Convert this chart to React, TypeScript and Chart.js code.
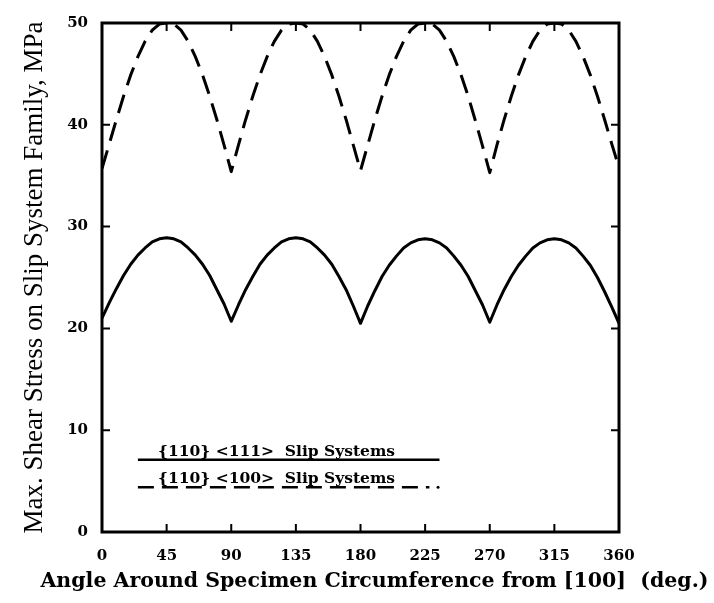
import React, { useEffect, useRef } from "react";
import { Chart, registerables } from "chart.js";

Chart.register(...registerables);

// Angle around specimen circumference, degrees
const angles: number[] = [
  0, 5, 10, 15, 20, 25, 30, 35, 40, 45, 50, 55, 60, 65, 70, 75, 80, 85, 90,
  95, 100, 105, 110, 115, 120, 125, 130, 135, 140, 145, 150, 155, 160, 165, 170, 175, 180,
  185, 190, 195, 200, 205, 210, 215, 220, 225, 230, 235, 240, 245, 250, 255, 260, 265, 270,
  275, 280, 285, 290, 295, 300, 305, 310, 315, 320, 325, 330, 335, 340, 345, 350, 355, 360,
];

// {110}<111> slip systems (solid), MPa
const slip111: number[] = [
  21.0, 22.5, 23.9, 25.2, 26.3, 27.2, 27.9, 28.5, 28.8, 28.9, 28.8, 28.5, 27.9, 27.2, 26.3, 25.2, 23.8, 22.4, 20.7,
  22.3, 23.8, 25.1, 26.3, 27.2, 27.9, 28.5, 28.8, 28.9, 28.8, 28.5, 27.9, 27.2, 26.3, 25.1, 23.8, 22.2, 20.5,
  22.2, 23.7, 25.1, 26.2, 27.1, 27.9, 28.4, 28.7, 28.8, 28.7, 28.4, 27.9, 27.1, 26.2, 25.1, 23.7, 22.3, 20.6,
  22.3, 23.8, 25.1, 26.2, 27.1, 27.9, 28.4, 28.7, 28.8, 28.7, 28.4, 27.9, 27.1, 26.2, 25.0, 23.6, 22.1, 20.5,
];

// {110}<100> slip systems (dashed), MPa
const slip100: number[] = [
  35.7, 38.1, 40.5, 42.8, 44.9, 46.7, 48.2, 49.3, 49.9, 50.0, 49.9, 49.3, 48.2, 46.7, 44.9, 42.8, 40.5, 38.0, 35.4,
  38.0, 40.5, 42.8, 44.9, 46.7, 48.2, 49.3, 49.9, 50.0, 49.9, 49.3, 48.2, 46.7, 44.9, 42.8, 40.5, 38.0, 35.5,
  38.0, 40.5, 42.8, 44.9, 46.7, 48.2, 49.3, 49.9, 50.0, 49.9, 49.3, 48.2, 46.7, 44.9, 42.8, 40.4, 37.9, 35.3,
  38.0, 40.5, 42.8, 44.9, 46.7, 48.2, 49.3, 49.9, 50.0, 49.9, 49.3, 48.2, 46.7, 44.9, 42.8, 40.5, 38.1, 35.8,
];

const seriesLabels: string[] = ["{110} <111>  Slip Systems", "{110} <100>  Slip Systems"];
const xTitle = "Angle Around Specimen Circumference from [100]  (deg.)";
const yTitle = "Max. Shear Stress on Slip System Family, MPa";

const W = 714;
const H = 603;
const DASH = [19, 10];

const framePlugin = {
  id: "frameTicks",
  afterDatasetsDraw(chart: any) {
    const { ctx, chartArea, scales } = chart;
    const { left, right, top, bottom } = chartArea;
    const xs = scales.x;
    const ys = scales.y;
    ctx.save();
    ctx.strokeStyle = "#000";
    ctx.lineWidth = 3;
    ctx.strokeRect(left, top, right - left, bottom - top);
    ctx.lineWidth = 2;
    ctx.beginPath();
    xs.ticks.forEach((t: any) => {
      if (t.value > xs.min && t.value < xs.max) {
        const px = xs.getPixelForValue(t.value);
        ctx.moveTo(px, bottom);
        ctx.lineTo(px, bottom - 8);
        ctx.moveTo(px, top);
        ctx.lineTo(px, top + 8);
      }
    });
    ys.ticks.forEach((t: any) => {
      if (t.value > ys.min && t.value < ys.max) {
        const py = ys.getPixelForValue(t.value);
        ctx.moveTo(left, py);
        ctx.lineTo(left + 8, py);
        ctx.moveTo(right, py);
        ctx.lineTo(right - 8, py);
      }
    });
    ctx.stroke();

    // x-axis title (wider than the plot, so drawn here rather than squeezed by the axis)
    ctx.fillStyle = "#000";
    ctx.font = "bold 20.5px 'DejaVu Serif'";
    ctx.textAlign = "center";
    ctx.textBaseline = "middle";
    ctx.fillText(xTitle, (left + right) / 2 + 14, 582);
    ctx.restore();
  },
};

// legend placement in data units
const legendLineX = [25, 235];
const legendTextX = 39;
const legendRows = [
  { lineY: 7.1, textY: 7.5 },
  { lineY: 4.4, textY: 4.8 },
];

const legendPlugin = {
  id: "inlineLegend",
  afterDatasetsDraw(chart: any) {
    const { ctx, scales } = chart;
    const xs = scales.x;
    const ys = scales.y;
    ctx.save();
    ctx.fillStyle = "#000";
    ctx.strokeStyle = "#000";
    ctx.font = "bold 15.5px 'DejaVu Serif'";
    ctx.textBaseline = "alphabetic";
    ctx.textAlign = "left";
    legendRows.forEach((row, i) => {
      ctx.fillText(seriesLabels[i], xs.getPixelForValue(legendTextX), ys.getPixelForValue(row.textY));
      const y = ys.getPixelForValue(row.lineY);
      ctx.lineWidth = 2.5;
      ctx.setLineDash(i === 0 ? [] : [16, 8]);
      ctx.beginPath();
      ctx.moveTo(xs.getPixelForValue(legendLineX[0]), y);
      ctx.lineTo(xs.getPixelForValue(i === 0 ? legendLineX[1] : legendLineX[1] - 7), y);
      ctx.stroke();
      if (i === 1) {
        ctx.setLineDash([]);
        ctx.beginPath();
        ctx.arc(xs.getPixelForValue(legendLineX[1] - 1), y, 1.5, 0, Math.PI * 2);
        ctx.fill();
      }
    });
    ctx.restore();
  },
};

export default function App() {
  const ref = useRef<HTMLCanvasElement | null>(null);

  useEffect(() => {
    if (!ref.current) return;
    const tickFont = { family: "'DejaVu Serif'", size: 15, weight: "bold" as const };
    const chart = new Chart(ref.current, {
      type: "line",
      data: {
        datasets: [
          {
            label: seriesLabels[0],
            data: angles.map((a, i) => ({ x: a, y: slip111[i] })),
            borderColor: "#000",
            borderWidth: 3,
            borderJoinStyle: "round",
            pointRadius: 0,
            fill: false,
            tension: 0,
          },
          {
            label: seriesLabels[1],
            data: angles.map((a, i) => ({ x: a, y: slip100[i] })),
            borderColor: "#000",
            borderWidth: 3,
            borderDash: DASH,
            borderJoinStyle: "round",
            pointRadius: 0,
            fill: false,
            tension: 0,
          },
        ],
      },
      options: {
        animation: false,
        responsive: true,
        maintainAspectRatio: false,
        layout: { padding: { left: 0, right: 95, top: 20, bottom: 0 } },
        plugins: {
          legend: { display: false },
          tooltip: { enabled: false },
        },
        scales: {
          x: {
            type: "linear",
            min: 0,
            max: 360,
            grid: { display: false, drawTicks: false },
            border: { display: false },
            ticks: { stepSize: 45, color: "#000", font: tickFont, padding: 15, maxRotation: 0 },
            title: { display: false },
            afterFit: (s: any) => {
              s.height = 71;
            },
          },
          y: {
            type: "linear",
            min: 0,
            max: 50,
            grid: { display: false, drawTicks: false },
            border: { display: false },
            ticks: { stepSize: 10, color: "#000", font: tickFont, padding: 14 },
            title: {
              display: true,
              text: yTitle,
              color: "#000",
              font: { family: "'Liberation Serif'", size: 27, weight: "normal" },
              padding: { top: 19, bottom: 0 },
            },
            afterFit: (s: any) => {
              s.width = 102;
            },
          },
        },
      },
      plugins: [framePlugin, legendPlugin],
    });
    return () => chart.destroy();
  }, []);

  return (
    <div style={{ position: "absolute", left: 0, top: 0, width: W, height: H, background: "#fff" }}>
      <canvas ref={ref} />
    </div>
  );
}
